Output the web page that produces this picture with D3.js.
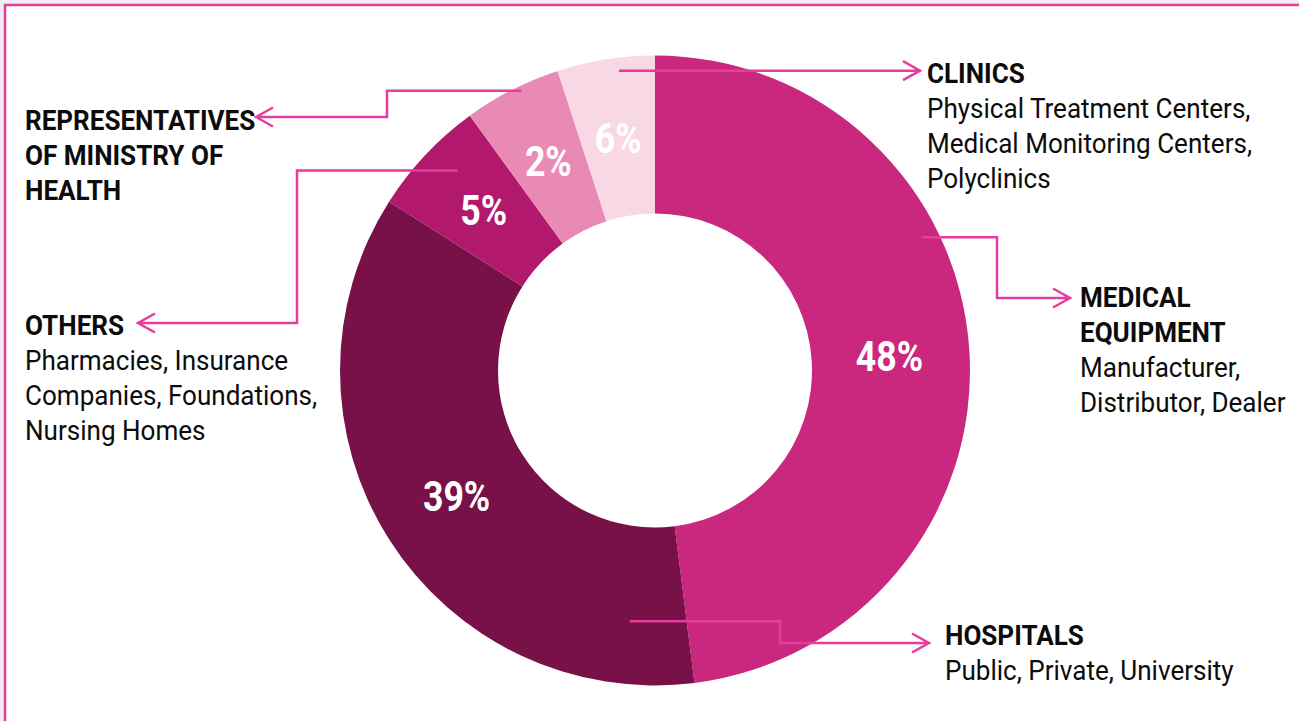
<!DOCTYPE html>
<html>
<head>
<meta charset="utf-8">
<script src="https://cdn.jsdelivr.net/npm/d3@7"></script>
<style>
  body { margin: 0; background: #fff; }
  svg { display: block; font-family: Roboto, "Noto Sans", sans-serif; }
</style>
</head>
<body>
<script>
// slice order, clockwise from 12 o'clock
const segments = ["Medical Equipment", "Hospitals", "Others", "Representatives", "Clinics"];
// share of the ring each slice takes
const shares = [48, 36, 6, 5, 5];
// percentages printed on the slices
const pctLabels = ["48%", "39%", "5%", "2%", "6%"];
const colors = ["#c9287e", "#771147", "#b2196c", "#e98ab4", "#f7d8e4"];

// callout text: bold heading lines + regular description lines
const headings = [
  ["MEDICAL", "EQUIPMENT"],
  ["HOSPITALS"],
  ["OTHERS"],
  ["REPRESENTATIVES", "OF MINISTRY OF", "HEALTH"],
  ["CLINICS"]
];
const descriptions = [
  ["Manufacturer,", "Distributor, Dealer"],
  ["Public, Private, University"],
  ["Pharmacies, Insurance", "Companies, Foundations,", "Nursing Homes"],
  [],
  ["Physical Treatment Centers,", "Medical Monitoring Centers,", "Polyclinics"]
];

const W = 1299, H = 721;
const cx = 655, cy = 370.5, rOuter = 315, rInner = 157;
const pink = "#e73c9b";

// callout layout: where the leader leaves the slice (fraction of slice, radius),
// elbow x, arrow y, arrow tip x, text x and first baseline
const callouts = [
  {t: 0.367, r: 298, elbow: 997, ay: 298, tip: 1070, tx: 1080, ty: 307},
  {t: 0.10,  r: 252, elbow: 780, ay: 643, tip: 929,  tx: 945,  ty: 645},
  {t: 0.60,  r: 281, elbow: 297, ay: 323, tip: 138,  tx: 25,   ty: 335},
  {t: 0.58,  r: 310, elbow: 387, ay: 117, tip: 256,  tx: 25,   ty: 130},
  {t: 0.62,  r: 302, elbow: null, ay: null, tip: 920, tx: 927, ty: 83}
];

const svg = d3.select("body").append("svg")
  .attr("width", W).attr("height", H);

// frame
svg.append("rect").attr("x", 0).attr("y", 0).attr("width", W).attr("height", 4)
  .attr("fill", "#eef0f6");
svg.append("rect").attr("x", 0).attr("y", 0).attr("width", 3.5).attr("height", H)
  .attr("fill", "#eceef4");
svg.append("path")
  .attr("d", `M${W},5 H5 V${H}`)
  .attr("fill", "none").attr("stroke", pink).attr("stroke-width", 2.6);

const pie = d3.pie().sort(null).value(d => d)(shares);
const arc = d3.arc().innerRadius(rInner).outerRadius(rOuter);
const labelArc = d3.arc().innerRadius(235).outerRadius(235);

const g = svg.append("g").attr("transform", `translate(${cx},${cy})`);

g.selectAll("path.slice")
  .data(pie)
  .join("path")
  .attr("class", "slice")
  .attr("d", arc)
  .attr("fill", (d, i) => colors[i]);

g.selectAll("text.pct")
  .data(pie)
  .join("text")
  .attr("class", "pct")
  .attr("transform", d => {
    const [x, y] = labelArc.centroid(d);
    return `translate(${x},${y}) scale(0.85,1)`;
  })
  .attr("text-anchor", "middle")
  .attr("dy", "0.355em")
  .attr("fill", "#fff")
  .attr("font-size", 42)
  .attr("font-weight", 700)
  .text((d, i) => pctLabels[i]);

// leader lines with open arrowheads
pie.forEach((d, i) => {
  const c = callouts[i];
  const a = d.startAngle + c.t * (d.endAngle - d.startAngle);
  const [px, py] = d3.pointRadial(a, c.r);
  const sx = cx + px, sy = cy + py;
  const p = d3.path();
  p.moveTo(sx, sy);
  let ay = sy;
  if (c.elbow !== null) {
    p.lineTo(c.elbow, sy);
    p.lineTo(c.elbow, c.ay);
    ay = c.ay;
  }
  p.lineTo(c.tip, ay);
  const dir = c.tip > (c.elbow !== null ? c.elbow : sx) ? 1 : -1;
  p.moveTo(c.tip - dir * 17, ay - 9.5);
  p.lineTo(c.tip, ay);
  p.lineTo(c.tip - dir * 17, ay + 9.5);
  svg.append("path")
    .attr("d", p.toString())
    .attr("fill", "none")
    .attr("stroke", pink)
    .attr("stroke-width", 2.5);
});

// callout text
const lineH = 35;
callouts.forEach((c, i) => {
  const tg = svg.append("g")
    .attr("transform", `translate(${c.tx},${c.ty}) scale(0.965,1)`);
  const lines = headings[i].map(s => ({s, bold: true}))
    .concat(descriptions[i].map(s => ({s, bold: false})));
  tg.selectAll("text")
    .data(lines)
    .join("text")
    .attr("x", 0)
    .attr("y", (d, j) => j * lineH)
    .attr("font-size", 27)
    .attr("font-weight", d => d.bold ? 700 : 400)
    .attr("fill", "#0c0c0c")
    .text(d => d.s);
});
</script>
</body>
</html>
